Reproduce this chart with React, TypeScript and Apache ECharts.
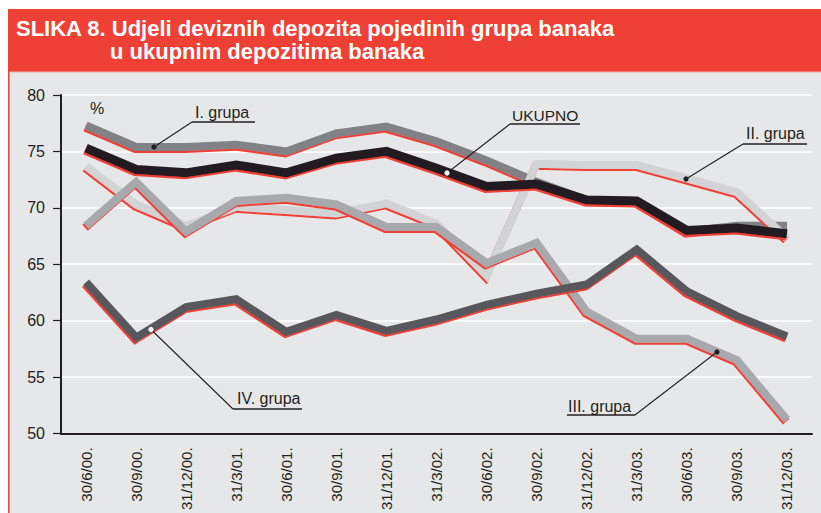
import React, { useEffect, useRef } from "react";
import * as echarts from "echarts";

const categories = [
  "30/6/00.", "30/9/00.", "31/12/00.", "31/3/01.", "30/6/01.", "30/9/01.", "31/12/01.",
  "31/3/02.", "30/6/02.", "30/9/02.", "31/12/02.", "31/3/03.", "30/6/03.", "30/9/03.", "31/12/03.",
];
const grupaI = [77.3, 75.4, 75.4, 75.6, 75.0, 76.6, 77.2, 75.9, 74.2, 72.3, 70.7, 70.6, 67.9, 68.4, 68.4];
const grupaII = [73.7, 70.3, 68.4, 70.1, 69.8, 69.5, 70.4, 68.6, 64.0, 73.9, 73.8, 73.8, 72.6, 71.4, 67.3];
const grupaIII = [68.4, 72.3, 67.9, 70.6, 70.9, 70.3, 68.3, 68.3, 65.1, 66.9, 60.8, 58.4, 58.4, 56.5, 51.2];
const grupaIV = [63.4, 58.5, 61.2, 61.9, 59.0, 60.5, 59.1, 60.1, 61.4, 62.4, 63.2, 66.3, 62.6, 60.4, 58.6];
const ukupno = [75.3, 73.4, 73.1, 73.8, 73.1, 74.4, 75.0, 73.5, 71.9, 72.1, 70.7, 70.6, 68.0, 68.2, 67.7];

const titleLine1 = "SLIKA 8. Udjeli deviznih depozita pojedinih grupa banaka";
const titleLine2 = "u ukupnim depozitima banaka";

const RED = "#ef4036";
const INK = "#231f20";
const FONT = "'Liberation Sans', Arial, Helvetica, sans-serif";

export default function App() {
  const ref = useRef<HTMLDivElement>(null);
  useEffect(() => {
    const chart = echarts.init(ref.current!, null, { renderer: "svg" });
    const mk = (name: string, data: number[], color: string, width: number) => ({
      name,
      type: "line",
      data,
      symbol: "none",
      showSymbol: false,
      z: 3,
      lineStyle: {
        color,
        width,
        cap: "butt",
        join: "miter",
        shadowColor: RED,
        shadowBlur: 0,
        shadowOffsetX: -1,
        shadowOffsetY: 2,
      },
    });
    const label = (text: string, x: number, y: number, size = 16) => ({
      type: "text",
      z: 100,
      style: { text, x, y, fill: INK, font: `${size}px ${FONT}`, verticalAlign: "middle" },
    });
    const seg = (x1: number, y1: number, x2: number, y2: number, w = 1.1) => ({
      type: "line",
      z: 100,
      shape: { x1, y1, x2, y2 },
      style: { stroke: INK, lineWidth: w },
    });
    const dot = (cx: number, cy: number, fill: string) => ({
      type: "circle",
      z: 101,
      shape: { cx, cy, r: 2.6 },
      style: { fill },
    });
    chart.setOption({
      animation: false,
      backgroundColor: "#ffffff",
      grid: { left: 61, right: 9, top: 95, bottom: 79 },
      xAxis: {
        type: "category",
        data: categories,
        boundaryGap: true,
        axisLine: { lineStyle: { color: INK, width: 2 } },
        axisTick: { length: 8, lineStyle: { color: INK, width: 1.2 } },
        axisLabel: { rotate: 90, margin: 14, fontSize: 15, color: INK, fontFamily: FONT },
        splitLine: { show: false },
      },
      yAxis: {
        type: "value",
        min: 50,
        max: 80,
        interval: 5,
        axisLine: { show: true, lineStyle: { color: INK, width: 2 } },
        axisTick: { show: true, length: 8, lineStyle: { color: INK, width: 1.2 } },
        axisLabel: { margin: 16, fontSize: 16, color: INK, fontFamily: FONT },
        splitLine: { show: true, lineStyle: { color: "#ffffff", width: 1.5 } },
      },
      series: [
        mk("I. grupa", grupaI, "#808285", 8),
        mk("II. grupa", grupaII, "#d1d3d4", 8),
        mk("III. grupa", grupaIII, "#a7a9ac", 8),
        mk("IV. grupa", grupaIV, "#58595b", 8),
        mk("UKUPNO", ukupno, INK, 9),
      ],
      graphic: [
        { type: "rect", z: -100, silent: true, shape: { x: 8, y: 72, width: 813, height: 441 }, style: { fill: "#e6e7e8" } },
        { type: "rect", z: -99, silent: true, shape: { x: 8, y: 72, width: 1.5, height: 441 }, style: { fill: RED } },
        { type: "rect", z: -99, silent: true, shape: { x: 8, y: 9, width: 813, height: 63 }, style: { fill: RED } },
        { type: "rect", z: -98, silent: true, shape: { x: 9.5, y: 71.5, width: 811.5, height: 1 }, style: { fill: "#f2b3ae" } },
        {
          type: "text", z: 100,
          style: { text: titleLine1, x: 16, y: 28, fill: "#ffffff", font: `bold 22px ${FONT}`, verticalAlign: "middle" },
        },
        {
          type: "text", z: 100,
          style: { text: titleLine2, x: 110, y: 51, fill: "#ffffff", font: `bold 22px ${FONT}`, verticalAlign: "middle" },
        },
        label("%", 90, 108),
        label("I. grupa", 195, 112.5),
        seg(192, 122, 255, 122, 1.4),
        seg(192, 122, 154, 147),
        dot(154, 147, INK),
        label("UKUPNO", 512, 115.5, 15.5),
        seg(510, 124, 580, 124, 1.4),
        seg(510, 124, 447, 173),
        dot(447, 173, "#ffffff"),
        label("II. grupa", 746, 133.7),
        seg(743, 144, 807, 144, 1.4),
        seg(743, 144, 686, 179),
        dot(686, 179, INK),
        label("IV. grupa", 237, 398.4),
        seg(233, 409, 302, 409, 1.4),
        seg(233, 409, 151, 329.5),
        dot(151, 329.5, "#ffffff"),
        label("III. grupa", 568, 406),
        seg(567, 415, 635, 415, 1.4),
        seg(635, 415, 717, 352),
        dot(717, 352, INK),
      ],
    });
    return () => chart.dispose();
  }, []);
  return <div ref={ref} style={{ position: "absolute", left: 0, top: 0, width: 821, height: 513 }} />;
}
